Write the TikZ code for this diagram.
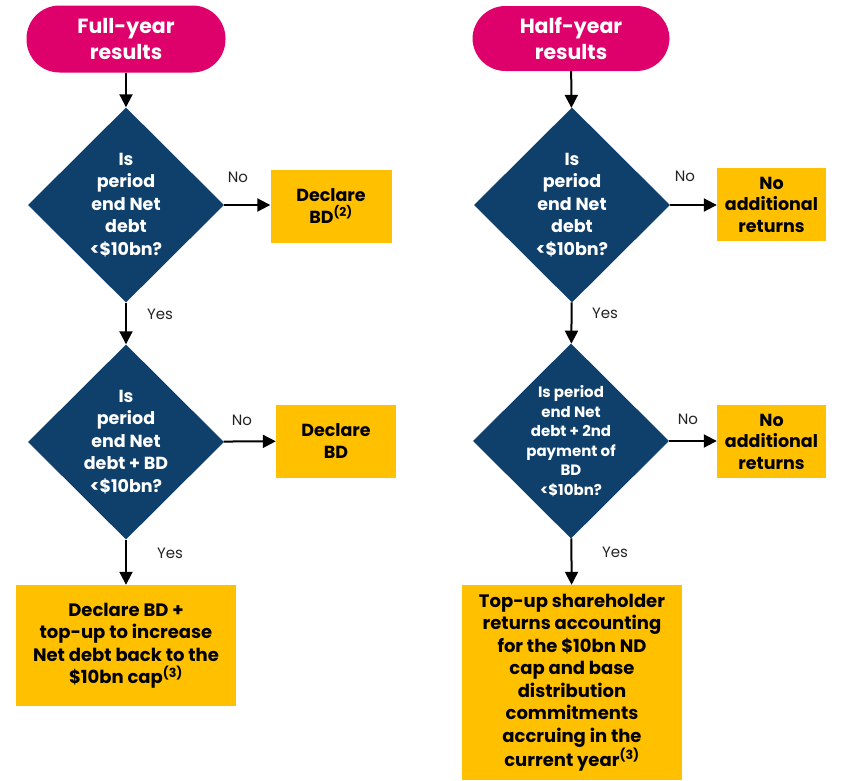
\documentclass[tikz,border=0pt]{standalone}
\usepackage{fontspec}
\setmainfont{Poppins}
\usetikzlibrary{shapes.geometric,arrows.meta}
\definecolor{pinkc}{HTML}{DE006B}
\definecolor{navy}{HTML}{0F3F6B}
\definecolor{gold}{HTML}{FFC000}
\definecolor{lbl}{HTML}{222222}
\begin{document}
\begin{tikzpicture}[x=1pt,y=-1pt,
  pill/.style={fill=pinkc, rounded corners=33pt, minimum width=199pt, minimum height=67pt, inner sep=0pt,
    text=white, align=center, font=\bfseries\fontsize{20.5}{26}\selectfont},
  dia/.style={diamond, fill=navy, minimum width=196pt, minimum height=195pt, inner sep=0pt},
  dtext/.style={text=white, align=center, font=\bfseries\fontsize{17.5}{22.5}\selectfont},
  dtextsm/.style={text=white, align=center, font=\bfseries\fontsize{15}{19.5}\selectfont},
  ybox/.style={fill=gold, inner sep=0pt, align=center, font=\bfseries\fontsize{17.5}{21.5}\selectfont},
  bigbox/.style={fill=gold, inner sep=0pt, align=center, font=\bfseries\fontsize{18}{22.5}\selectfont},
  arr/.style={line width=2pt, -{Triangle[length=13pt,width=13pt]}},
  yn/.style={text=lbl, font=\fontsize{15}{18}\selectfont}]
\useasboundingbox (0,0) rectangle (847,780);

% left column
\node[pill] (p1) at (126,39) {Full-year\\results};
\node[dia] (d1) at (126,205) {};
\node[dtext] at (d1) {Is\\period\\end Net\\debt\\<\$10bn?};
\node[ybox, minimum width=121pt, minimum height=73pt] (b1) at (331,206) {Declare\\BD\textsuperscript{(2)}};
\node[dia] (d2) at (126,442) {};
\node[dtext] at (d2) {Is\\period\\end Net\\debt + BD\\<\$10bn?};
\node[ybox, minimum width=120pt, minimum height=73pt] (b2) at (336,441) {Declare\\BD};
\node[bigbox, minimum width=220pt, minimum height=121pt] (b3) at (126,645.5) {Declare BD +\\top-up to increase\\Net debt back to the\\\$10bn cap\textsuperscript{(3)}};

\draw[arr] (p1) -- (d1);
\draw[arr] (d1) -- (b1.west |- d1);
\draw[arr] (d1) -- (d2);
\draw[arr] (d2) -- (b2);
\draw[arr] (d2) -- (b3);
\node[yn] at (238,177) {No};
\node[yn] at (160,314) {Yes};
\node[yn] at (242,420) {No};
\node[yn] at (170,553) {Yes};

% right column
\node[pill, minimum width=197pt, minimum height=65pt] (p2) at (571,38.5) {Half-year\\results};
\node[dia] (d3) at (572,205) {};
\node[dtext] at (d3) {Is\\period\\end Net\\debt\\<\$10bn?};
\node[ybox, minimum width=109pt, minimum height=73pt] (b4) at (771.5,204.5) {No\\additional\\returns};
\node[dia] (d4) at (571,441) {};
\node[dtextsm] at (d4) {Is period\\end Net\\debt + 2nd\\payment of\\BD\\<\$10bn?};
\node[ybox, minimum width=109pt, minimum height=73pt] (b5) at (771.5,441.5) {No\\additional\\returns};
\node[bigbox, minimum width=220pt, minimum height=195pt] (b6) at (572,682.5) {Top-up shareholder\\returns accounting\\for the \$10bn ND\\cap and base\\distribution\\commitments\\accruing in the\\current year\textsuperscript{(3)}};

\draw[arr] (p2) -- (d3);
\draw[arr] (d3) -- (b4.west |- d3);
\draw[arr] (d3) -- (d4);
\draw[arr] (d4) -- (b5.west |- d4);
\draw[arr] (d4) -- (b6);
\node[yn] at (685,176) {No};
\node[yn] at (605,313) {Yes};
\node[yn] at (688,419) {No};
\node[yn] at (615,552) {Yes};
\end{tikzpicture}
\end{document}
